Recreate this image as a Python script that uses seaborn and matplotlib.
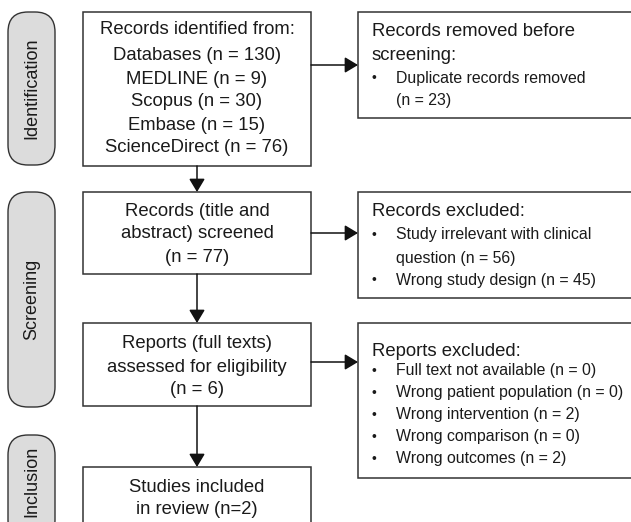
import matplotlib
matplotlib.use("Agg")
import matplotlib.pyplot as plt
import seaborn as sns
from matplotlib.patches import FancyBboxPatch, Rectangle, FancyArrowPatch

sns.set_theme(style="white")
plt.rcParams['font.family'] = ['Liberation Sans', 'DejaVu Sans']

# Data
stages = ['Identification', 'Screening', 'Inclusion']
databases = ['MEDLINE', 'Scopus', 'Embase', 'ScienceDirect']
database_n = [9, 30, 15, 76]
total_identified = 130
duplicates_removed = 23
screened_n = 77
excluded_reasons = ['Study irrelevant with clinical\nquestion', 'Wrong study design']
excluded_n = [56, 45]
assessed_n = 6
report_reasons = ['Full text not available', 'Wrong patient population',
                  'Wrong intervention', 'Wrong comparison', 'Wrong outcomes']
report_n = [0, 0, 2, 0, 2]
included_n = 2

W, H = 631, 522
fig = plt.figure(figsize=(W / 100, H / 100), dpi=100)
ax = fig.add_axes([0, 0, 1, 1])
ax.set_xlim(0, W)
ax.set_ylim(H, 0)
ax.axis('off')

edge = '#333333'
tc = '#1a1a1a'
fs = 13.3
fb = 11.4

# stage pills
pills = [(12, 165), (192, 407), (435, 540)]
for name, (y0, y1) in zip(stages, pills):
    ax.add_patch(FancyBboxPatch((8, y0), 47, y1 - y0,
                                boxstyle="round,pad=0,rounding_size=20",
                                fc='#dcdcdc', ec=edge, lw=1.0))
    yc = (y0 + min(y1, 527)) / 2
    ax.text(32, yc, name, rotation=90, ha='center', va='center', fontsize=13, color=tc)

# main boxes
main = [(12, 166), (192, 274), (323, 406), (467, 560)]
for y0, y1 in main:
    ax.add_patch(Rectangle((83, y0), 228, y1 - y0, fc='white', ec=edge, lw=1.1))

main_lines = [
    ['Records identified from:', f'Databases (n = {total_identified})'] +
    [f'{d} (n = {n})' for d, n in zip(databases, database_n)],
    ['Records (title and', 'abstract) screened', f'(n = {screened_n})'],
    ['Reports (full texts)', 'assessed for eligibility', f'(n = {assessed_n})'],
    ['Studies included', f'in review (n={included_n})'],
]
main_y = [[30, 56, 79, 102, 125, 148], [212, 234, 257], [344, 367, 390], [487, 510]]
for lines, ys in zip(main_lines, main_y):
    for t, y in zip(lines, ys):
        ax.text(197, y, t, ha='center', va='center', fontsize=fs, color=tc)

# side boxes
side = [(12, 118), (192, 298), (323, 478)]
for y0, y1 in side:
    ax.add_patch(Rectangle((358, y0), 300, y1 - y0, fc='white', ec=edge, lw=1.1))

def bullet(y, txt):
    ax.text(374, y, '•', ha='center', va='center', fontsize=10, color=tc)
    ax.text(396, y, txt, ha='left', va='center', fontsize=fb, color=tc)

ax.text(372, 32, 'Records removed before', ha='left', va='center', fontsize=fs, color=tc)
ax.text(372, 55, 'screening:', ha='left', va='center', fontsize=fs, color=tc)
bullet(78, 'Duplicate records removed')
ax.text(396, 100, f'(n = {duplicates_removed})', ha='left', va='center', fontsize=fb, color=tc)

ax.text(372, 212, 'Records excluded:', ha='left', va='center', fontsize=fs, color=tc)
bullet(235, 'Study irrelevant with clinical')
ax.text(396, 258, f'question (n = {excluded_n[0]})', ha='left', va='center', fontsize=fb, color=tc)
bullet(280, f'{excluded_reasons[1]} (n = {excluded_n[1]})')

ax.text(372, 352, 'Reports excluded:', ha='left', va='center', fontsize=fs, color=tc)
for i, (r, n) in enumerate(zip(report_reasons, report_n)):
    bullet(371 + i * 22, f'{r} (n = {n})')

# arrows
def arrow(p0, p1):
    ax.add_patch(FancyArrowPatch(p0, p1, arrowstyle='-|>,head_length=0.4,head_width=0.24',
                                 mutation_scale=20, color='#111111', lw=1.1,
                                 shrinkA=0, shrinkB=0))

arrow((197, 166), (197, 192))
arrow((197, 274), (197, 323))
arrow((197, 406), (197, 467))
arrow((311, 65), (358, 65))
arrow((311, 233), (358, 233))
arrow((311, 362), (358, 362))

fig.savefig('out.png', dpi=100)
